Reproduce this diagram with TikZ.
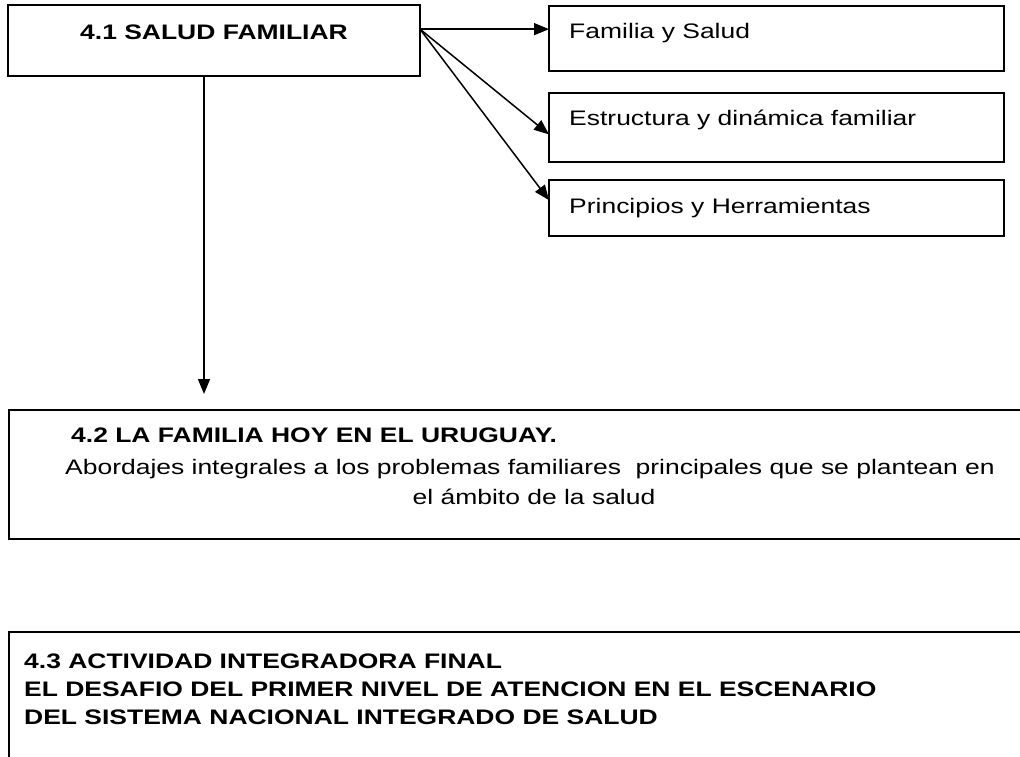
\documentclass[tikz,border=0pt]{standalone}
\usepackage{fontspec}
\setmainfont{Liberation Sans}[FakeStretch=1.26]
\usetikzlibrary{arrows.meta,calc}
\begin{document}
\begin{tikzpicture}[x=1pt,y=-1pt,
  box/.style={draw, line width=1.8pt, inner sep=0pt, outer sep=0pt, anchor=north west},
  lbl/.style={inner sep=0pt, font=\fontsize{21}{30}\selectfont},
  hd/.style={inner sep=0pt, font=\fontsize{21}{30}\selectfont\bfseries},
  conn/.style={line width=1.5pt, -{Triangle[length=15pt,width=12pt]}}]
\useasboundingbox (0,0) rectangle (1020,757);
\clip (0,0) rectangle (1020,757);
% boxes
\node[box, minimum width=412pt, minimum height=71pt] (a) at (8,5) {};
\node[box, minimum width=455pt, minimum height=65pt] (b1) at (549,6) {};
\node[box, minimum width=455pt, minimum height=69pt] (b2) at (549,93) {};
\node[box, minimum width=455pt, minimum height=56pt] (b3) at (549,180) {};
\node[box, minimum width=1056pt, minimum height=129pt] (c) at (9,410) {};
\node[box, minimum width=1056pt, minimum height=200pt] (d) at (9,632) {};
% texts
\node[hd, anchor=base] (ta) at (214,40) {4.1 SALUD FAMILIAR};
\node[lbl, anchor=base west] (tb1) at (569,39) {Familia y Salud};
\node[lbl, anchor=base west] (tb2) at (569,126) {Estructura y dinámica familiar};
\node[lbl, anchor=base west] (tb3) at (569,213) {Principios y Herramientas};
\node[hd, anchor=base west] (tc1) at (71,442) {4.2 LA FAMILIA HOY EN EL URUGUAY.};
\node[lbl, anchor=base] (tc2) at (530,474) {Abordajes integrales a los problemas familiares\ \ principales que se plantean en};
\node[lbl, anchor=base] (tc3) at (534,504) {el ámbito de la salud};
\node[hd, anchor=base west] (td1) at (24,668) {4.3 ACTIVIDAD INTEGRADORA FINAL};
\node[hd, anchor=base west] (td2) at (24,696) {EL DESAFIO DEL PRIMER NIVEL DE ATENCION EN EL ESCENARIO};
\node[hd, anchor=base west] (td3) at (24,724) {DEL SISTEMA NACIONAL INTEGRADO DE SALUD};
% connectors
\coordinate (s) at ($(a.north east)!0.34!(a.south east)$);
\coordinate (e1) at (b1.west |- s);
\coordinate (e2) at ($(b2.north west)!0.6!(b2.south west)$);
\coordinate (e3) at ($(b3.north west)!0.36!(b3.south west)$);
\coordinate (v) at (204,394);
\draw[conn] (s) -- (e1);
\draw[conn] (s) -- (e2);
\draw[conn] (s) -- (e3);
\draw[conn] (a.south -| v) -- (v);
\end{tikzpicture}
\end{document}
